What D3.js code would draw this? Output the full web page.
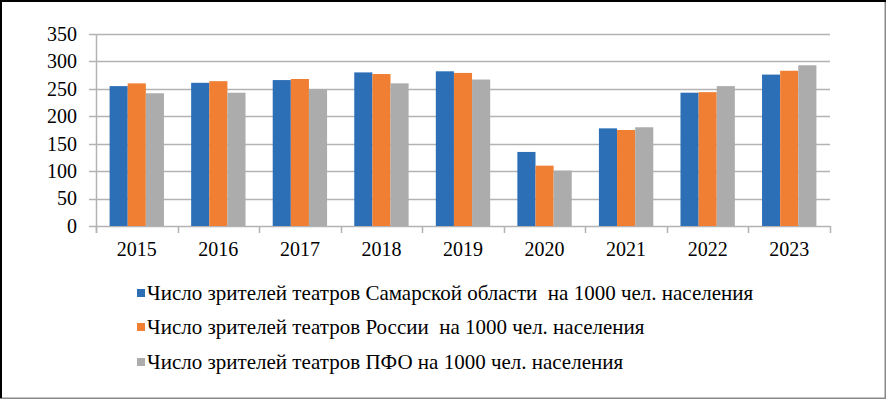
<!DOCTYPE html>
<html><head><meta charset="utf-8">
<script src="https://cdn.jsdelivr.net/npm/d3@7"></script>
<style>
html,body{margin:0;padding:0;background:#fff;}
svg{display:block;}
</style></head>
<body>
<svg id="c" width="886" height="399"></svg>
<script>
const years = ["2015","2016","2017","2018","2019","2020","2021","2022","2023"];
const samara = [255, 261, 266, 280, 282, 135, 178, 243, 276];
const russia = [260, 264, 268, 277, 279, 110, 175, 244, 283];
const pfo    = [242, 243, 249, 260, 267, 101, 180, 255, 293];
const seriesNames = [
  "Число зрителей театров Самарской области  на 1000 чел. населения",
  "Число зрителей театров России  на 1000 чел. населения",
  "Число зрителей театров ПФО на 1000 чел. населения"
];
const colors = ["#2c6fb7", "#f07f33", "#acacac"];
const yTicks = [0, 50, 100, 150, 200, 250, 300, 350];

(function(){
const FONT = "'Liberation Serif', Tinos, 'Times New Roman', 'DejaVu Serif', serif";
const series = [samara, russia, pfo];
const svg = d3.select("#c");

// frame
svg.append("rect").attr("x",0.5).attr("y",0.5).attr("width",885).attr("height",398)
  .attr("fill","none").attr("stroke","#888").attr("stroke-width",2);
svg.append("line").attr("x1",1).attr("x2",1).attr("y1",0).attr("y2",398).attr("stroke","#000").attr("stroke-width",2);
svg.append("line").attr("x1",0).attr("x2",886).attr("y1",1).attr("y2",1).attr("stroke","#000").attr("stroke-width",2);

const pl = 96, pr = 830, pt = 34, pb = 226;
const x = d3.scaleBand().domain(years).range([pl, pr]).paddingInner(0).paddingOuter(0);
const y = d3.scaleLinear().domain([0, 350]).range([pb, pt]);
const bw = x.bandwidth() / 4.5;

// gridlines
svg.append("g").selectAll("line").data(yTicks).join("line")
  .attr("x1", pl - 7).attr("x2", pr)
  .attr("y1", d => Math.round(y(d)) + 0.5).attr("y2", d => Math.round(y(d)) + 0.5)
  .attr("stroke", "#b3b3b3").attr("stroke-width", 1.5);

// y axis line
svg.append("line").attr("x1", pl + 0.5).attr("x2", pl + 0.5)
  .attr("y1", pt).attr("y2", pb + 7).attr("stroke", "#b3b3b3").attr("stroke-width", 1.5);

// x ticks
svg.append("g").selectAll("line").data(years.concat(["end"])).join("line")
  .attr("x1", (d,i) => Math.round(pl + i * x.bandwidth()) + 0.5)
  .attr("x2", (d,i) => Math.round(pl + i * x.bandwidth()) + 0.5)
  .attr("y1", pb).attr("y2", pb + 7)
  .attr("stroke", "#b3b3b3").attr("stroke-width", 1.5);

// bars
series.forEach((s, si) => {
  svg.append("g").selectAll("rect").data(s).join("rect")
    .attr("x", (d,i) => x(years[i]) + 0.75 * bw + si * bw)
    .attr("y", d => y(d))
    .attr("width", bw)
    .attr("height", d => y(0) - y(d))
    .attr("fill", colors[si]);
});

// y labels
svg.append("g").selectAll("text").data(yTicks).join("text")
  .attr("x", 77).attr("y", d => y(d)).attr("dy", "0.34em")
  .attr("font-family", FONT).attr("fill", "#000")
  .attr("text-anchor", "end").attr("font-size", 20).text(d => d);

// x labels
svg.append("g").selectAll("text").data(years).join("text")
  .attr("x", d => x(d) + x.bandwidth() / 2).attr("y", 249).attr("dy", "0.34em")
  .attr("font-family", FONT).attr("fill", "#000")
  .attr("text-anchor", "middle").attr("font-size", 20).text(d => d);

// legend
const ly = [293, 327, 362];
seriesNames.forEach((n, i) => {
  svg.append("rect").attr("x", 137).attr("y", ly[i] - 4).attr("width", 8).attr("height", 8).attr("fill", colors[i]);
  svg.append("text").attr("x", 147).attr("y", ly[i]).attr("dy", "0.34em")
    .attr("font-family", FONT).attr("fill", "#000")
    .attr("font-size", 21).style("white-space","pre").text(n);
});
})();
</script>
</body></html>
